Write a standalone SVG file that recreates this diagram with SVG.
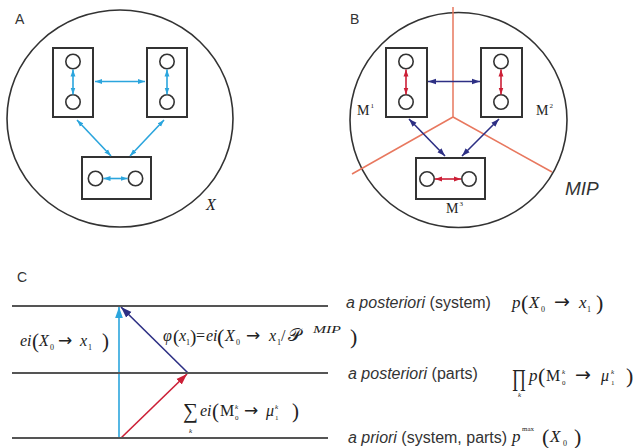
<svg xmlns="http://www.w3.org/2000/svg" width="637" height="448" viewBox="0 0 637 448">
<style>
.big{fill:none;stroke:#333;stroke-width:1.6}
.box{fill:#fff;stroke:#333;stroke-width:2}
.dot{fill:#fff;stroke:#333;stroke-width:1.6}
.lab{font-family:"Liberation Sans",Arial,sans-serif;font-size:14px;fill:#333}
.s{font-family:"Liberation Serif","Times New Roman",serif;fill:#222}
.i{font-style:italic}
.ar{font-family:"DejaVu Sans","Liberation Sans",sans-serif}
.cb{stroke:#2ba5dd;stroke-width:1.6;fill:none}
.cn{stroke:#2d2f84;stroke-width:1.6;fill:none}
.cr{stroke:#cc1f36;stroke-width:1.6;fill:none}
.cut{stroke:#e8785f;stroke-width:1.5;fill:none}
.lvl{stroke:#555;stroke-width:2}
.rl{font-family:"Liberation Sans",Arial,sans-serif;font-size:16px;fill:#333}
</style>
<defs>
<marker id="mb" viewBox="0 0 10 10" refX="10" refY="5" markerWidth="7" markerHeight="7" markerUnits="userSpaceOnUse" orient="auto-start-reverse"><path d="M0,1.5L10,5L0,8.5z" fill="#2ba5dd"/></marker>
<marker id="mn" viewBox="0 0 10 10" refX="10" refY="5" markerWidth="8" markerHeight="8" markerUnits="userSpaceOnUse" orient="auto-start-reverse"><path d="M0,1.5L10,5L0,8.5z" fill="#2d2f84"/></marker>
<marker id="mr" viewBox="0 0 10 10" refX="10" refY="5" markerWidth="7" markerHeight="7" markerUnits="userSpaceOnUse" orient="auto-start-reverse"><path d="M0,1.5L10,5L0,8.5z" fill="#cc1f36"/></marker>
<marker id="Lb" viewBox="0 0 10 10" refX="10" refY="5" markerWidth="11" markerHeight="11" markerUnits="userSpaceOnUse" orient="auto"><path d="M0,1.5L10,5L0,8.5z" fill="#2ba5dd"/></marker>
<marker id="Ln" viewBox="0 0 10 10" refX="10" refY="5" markerWidth="11" markerHeight="11" markerUnits="userSpaceOnUse" orient="auto"><path d="M0,1.5L10,5L0,8.5z" fill="#2d2f84"/></marker>
<marker id="Lr" viewBox="0 0 10 10" refX="10" refY="5" markerWidth="11" markerHeight="11" markerUnits="userSpaceOnUse" orient="auto"><path d="M0,1.5L10,5L0,8.5z" fill="#cc1f36"/></marker>
</defs>

<!-- Panel A -->
<g id="panelA">
<text class="lab" x="15" y="24">A</text>
<ellipse class="big" cx="120" cy="118.5" rx="113" ry="108.5"/>
<text class="s i" x="206" y="210" font-size="16">X</text>
</g>
<g id="A-node1"><rect class="box" x="53" y="48" width="40" height="69"/><circle class="dot" cx="73" cy="61.5" r="7.2"/><circle class="dot" cx="73" cy="102" r="7.2"/></g>
<g id="A-node2"><rect class="box" x="147" y="48" width="40" height="69"/><circle class="dot" cx="167" cy="61.5" r="7.2"/><circle class="dot" cx="167" cy="102" r="7.2"/></g>
<g id="A-node3"><rect class="box" x="82" y="157" width="69" height="42"/><circle class="dot" cx="95.5" cy="178.5" r="7.2"/><circle class="dot" cx="135.5" cy="178.5" r="7.2"/></g>

<!-- Panel B -->
<g id="panelB">
<text class="lab" x="350" y="24">B</text>
<ellipse class="big" cx="458.5" cy="120" rx="108.5" ry="107.5"/>
<path class="cut" d="M453,117V7M453,117L352,174M453,117L552,172"/>
<text x="565" y="195" style="font-family:'Liberation Sans',Arial,sans-serif;font-size:19px;font-style:italic;fill:#333">MIP</text>
</g>
<g id="B-node1"><rect class="box" x="386" y="48" width="41" height="69"/><circle class="dot" cx="406" cy="61.5" r="7.2"/><circle class="dot" cx="406" cy="102" r="7.2"/>
<text class="s" x="357" y="115" font-size="14">M</text><text class="s" x="370.5" y="108" font-size="7">1</text></g>
<g id="B-node2"><rect class="box" x="481" y="48" width="41" height="69"/><circle class="dot" cx="501" cy="61.5" r="7.2"/><circle class="dot" cx="501" cy="102" r="7.2"/>
<text class="s" x="536" y="115" font-size="14">M</text><text class="s" x="549.5" y="108" font-size="7">2</text></g>
<g id="B-node3"><rect class="box" x="416" y="158" width="69" height="41"/><circle class="dot" cx="427" cy="179" r="7.2"/><circle class="dot" cx="469" cy="179" r="7.2"/>
<text class="s" x="446" y="213" font-size="14">M</text><text class="s" x="459.5" y="206" font-size="7">3</text></g>

<!-- Connectors -->
<g id="connectors">
<path class="cb" marker-start="url(#mb)" marker-end="url(#mb)" d="M73,69.5V94.5"/>
<path class="cb" marker-start="url(#mb)" marker-end="url(#mb)" d="M167,69.5V94.5"/>
<path class="cb" marker-start="url(#mb)" marker-end="url(#mb)" d="M95,81.5H145"/>
<path class="cb" marker-start="url(#mb)" marker-end="url(#mb)" d="M77,120L111,156"/>
<path class="cb" marker-start="url(#mb)" marker-end="url(#mb)" d="M164,120L130,156"/>
<path class="cb" marker-start="url(#mb)" marker-end="url(#mb)" d="M103.5,178.5H127.5"/>

<path class="cr" marker-start="url(#mr)" marker-end="url(#mr)" d="M406,69.5V94.5"/>
<path class="cr" marker-start="url(#mr)" marker-end="url(#mr)" d="M501,69.5V94.5"/>
<path class="cr" marker-start="url(#mr)" marker-end="url(#mr)" d="M435,179H461"/>
<path class="cn" marker-start="url(#mn)" marker-end="url(#mn)" d="M428,81.5H480"/>
<path class="cn" marker-start="url(#mn)" marker-end="url(#mn)" d="M409,119L445,156"/>
<path class="cn" marker-start="url(#mn)" marker-end="url(#mn)" d="M499,119L462,156"/>

<path class="cb" stroke-width="2" marker-end="url(#Lb)" d="M119,438V307"/>
<path class="cn" stroke-width="2" marker-end="url(#Ln)" d="M188,373L121,307"/>
<path class="cr" stroke-width="2" marker-end="url(#Lr)" d="M121,438L187,374"/>
</g>

<!-- Panel C -->
<g id="panelC">
<text class="lab" x="17" y="282">C</text>
<path class="lvl" d="M12,306H328M12,373H328M12,438H328"/>

<text class="rl" x="346" y="308"><tspan class="i">a posteriori</tspan> (system)</text>
<text class="rl" x="348" y="379"><tspan class="i">a posteriori</tspan> (parts)</text>
<text class="rl" x="348" y="443"><tspan class="i">a priori</tspan> (system, parts)</text>
</g>

<g id="f-ei" class="s" font-size="16">
<text class="i" x="20" y="346">ei</text>
<text x="32" y="348" font-size="21">(</text>
<text class="i" x="39" y="346">X</text>
<text x="50" y="350" font-size="8">0</text>
<text class="ar" x="58" y="346" font-size="17">→</text>
<text class="i" x="80" y="346">x</text>
<text x="88" y="350" font-size="8">1</text>
<text x="102" y="348" font-size="21">)</text>
</g>

<g id="f-phi" class="s" font-size="16">
<text class="i" x="163" y="341">φ</text>
<text x="173" y="343" font-size="19">(</text>
<text class="i" x="179" y="341">x</text>
<text x="186" y="345" font-size="8">1</text>
<text x="190" y="343" font-size="19">)</text>
<text x="196" y="341">=</text>
<text class="i" x="206" y="341">ei</text>
<text x="217" y="344" font-size="22">(</text>
<text class="i" x="225" y="341">X</text>
<text x="236" y="345" font-size="8">0</text>
<text class="ar" x="246" y="341" font-size="17">→</text>
<text class="i" x="269" y="341">x</text>
<text x="277" y="345" font-size="8">1</text>
<text x="281" y="341">/</text>
<text x="288" y="341" font-size="18" style="font-family:'DejaVu Sans','Noto Sans',serif">𝒫</text>
<text class="i" x="313" y="333" font-size="10" textLength="28" lengthAdjust="spacingAndGlyphs">MIP</text>
<text x="350" y="344" font-size="22">)</text>
</g>

<g id="f-sum" class="s" font-size="16">
<text x="183" y="418" font-size="21">∑</text>
<text class="i" x="189" y="433" font-size="7">k</text>
<text class="i" x="200" y="416">ei</text>
<text x="212" y="418" font-size="21">(</text>
<text x="220" y="416">M</text>
<text class="i" x="235" y="409" font-size="7">k</text>
<text x="235" y="420" font-size="7">0</text>
<text class="ar" x="244" y="416" font-size="17">→</text>
<text class="i" x="266" y="416">μ</text>
<text class="i" x="275" y="409" font-size="7">k</text>
<text x="275" y="420" font-size="7">1</text>
<text x="292" y="418" font-size="21">)</text>
</g>

<g id="f-p1" class="s" font-size="17">
<text class="i" x="512" y="308">p</text>
<text x="521" y="310" font-size="22">(</text>
<text class="i" x="529" y="308">X</text>
<text x="541" y="312" font-size="8">0</text>
<text class="ar" x="554" y="308" font-size="19">→</text>
<text class="i" x="579" y="308">x</text>
<text x="587" y="312" font-size="8">1</text>
<text x="596" y="310" font-size="22">)</text>
</g>

<g id="f-prod" class="s" font-size="17">
<text x="0" y="0" font-size="24" transform="translate(512,386) scale(0.72,1)">∏</text>
<text class="i" x="518" y="397" font-size="7">k</text>
<text class="i" x="529" y="381">p</text>
<text x="538" y="383" font-size="22">(</text>
<text x="546" y="381" font-size="16">M</text>
<text class="i" x="562" y="374" font-size="7">k</text>
<text x="562" y="385" font-size="7">0</text>
<text class="ar" x="575" y="381" font-size="19">→</text>
<text class="i" x="601" y="381" font-size="16">μ</text>
<text class="i" x="611" y="374" font-size="7">k</text>
<text x="611" y="385" font-size="7">1</text>
<text x="626" y="383" font-size="22">)</text>
</g>

<g id="f-pmax" class="s" font-size="17">
<text class="i" x="512" y="442">p</text>
<text x="522" y="431" font-size="7">max</text>
<text x="542" y="444" font-size="22">(</text>
<text class="i" x="550" y="442">X</text>
<text x="563" y="446" font-size="8">0</text>
<text x="574" y="444" font-size="22">)</text>
</g>
</svg>
